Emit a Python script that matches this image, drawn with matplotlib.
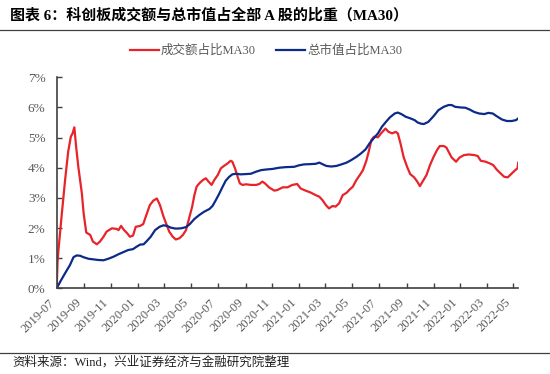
import matplotlib
matplotlib.use("Agg")
import matplotlib.pyplot as plt
import pandas as pd
from matplotlib.lines import Line2D

plt.rcParams['font.family'] = ['Liberation Serif', 'Noto Sans CJK SC', 'DejaVu Sans']

title = "图表 6：科创板成交额与总市值占全部 A 股的比重（MA30）"
source = "资料来源：Wind，兴业证券经济与金融研究院整理"
series_names = ["成交额占比MA30", "总市值占比MA30"]

red_dates = [
    "2019-07-22", "2019-07-24", "2019-07-26", "2019-08-02", "2019-08-10", "2019-08-17",
    "2019-08-23", "2019-08-27", "2019-08-31", "2019-09-04", "2019-09-09", "2019-09-17",
    "2019-09-21", "2019-09-27", "2019-10-06", "2019-10-12", "2019-10-21", "2019-10-28",
    "2019-11-05", "2019-11-12", "2019-11-24", "2019-12-05", "2019-12-09", "2019-12-15",
    "2019-12-20", "2019-12-29", "2020-01-04", "2020-01-11", "2020-01-17", "2020-01-27",
    "2020-02-03", "2020-02-09", "2020-02-18", "2020-02-26", "2020-03-05", "2020-03-12",
    "2020-03-20", "2020-03-26", "2020-04-02", "2020-04-10", "2020-04-17", "2020-04-25",
    "2020-05-03", "2020-05-10", "2020-05-18", "2020-05-24", "2020-05-29", "2020-06-03",
    "2020-06-09", "2020-06-17", "2020-06-24", "2020-06-30", "2020-07-07", "2020-07-13",
    "2020-07-21", "2020-07-28", "2020-08-04", "2020-08-12", "2020-08-19", "2020-08-23",
    "2020-08-29", "2020-09-04", "2020-09-09", "2020-09-15", "2020-09-23", "2020-10-04",
    "2020-10-16", "2020-10-23", "2020-10-30", "2020-11-05", "2020-11-14", "2020-11-26",
    "2020-12-03", "2020-12-15", "2020-12-26", "2021-01-06", "2021-01-17", "2021-01-25",
    "2021-02-05", "2021-02-16", "2021-02-28", "2021-03-08", "2021-03-15", "2021-03-23",
    "2021-03-30", "2021-04-07", "2021-04-14", "2021-04-22", "2021-04-30", "2021-05-09",
    "2021-05-16", "2021-05-23", "2021-05-31", "2021-06-08", "2021-06-15", "2021-06-23",
    "2021-06-29", "2021-07-04", "2021-07-10", "2021-07-19", "2021-07-26", "2021-08-05",
    "2021-08-12", "2021-08-20", "2021-08-28", "2021-09-02", "2021-09-08", "2021-09-15",
    "2021-09-23", "2021-09-30", "2021-10-09", "2021-10-16", "2021-10-22", "2021-10-30",
    "2021-11-06", "2021-11-14", "2021-11-22", "2021-11-30", "2021-12-06", "2021-12-15",
    "2021-12-21", "2021-12-26", "2022-01-02", "2022-01-12", "2022-01-20", "2022-01-30",
    "2022-02-10", "2022-02-22", "2022-03-02", "2022-03-09", "2022-03-20", "2022-03-30",
    "2022-04-06", "2022-04-14", "2022-04-23", "2022-05-01", "2022-05-09", "2022-05-16",
    "2022-05-26", "2022-05-31", "2022-06-02",
]
red_values = [
    0.00, 0.90, 1.27, 2.38, 3.59, 4.53,
    5.03, 5.14, 5.34, 4.70, 4.03, 3.15,
    2.49, 1.85, 1.77, 1.55, 1.46, 1.55,
    1.71, 1.88, 1.99, 1.97, 1.93, 2.07,
    1.96, 1.82, 1.71, 1.75, 2.04, 2.07,
    2.13, 2.38, 2.76, 2.91, 2.98, 2.76,
    2.38, 2.15, 1.88, 1.71, 1.62, 1.66,
    1.77, 1.93, 2.38, 2.71, 3.09, 3.37,
    3.48, 3.59, 3.65, 3.54, 3.43, 3.59,
    3.76, 3.98, 4.06, 4.14, 4.23, 4.20,
    3.98, 3.70, 3.48, 3.43, 3.45, 3.43,
    3.43, 3.46, 3.54, 3.48, 3.35, 3.24,
    3.26, 3.35, 3.35, 3.43, 3.46, 3.31,
    3.24, 3.18, 3.09, 3.04, 2.93, 2.76,
    2.65, 2.73, 2.71, 2.82, 3.09, 3.17,
    3.28, 3.37, 3.59, 3.76, 3.92, 4.25,
    4.59, 4.92, 5.03, 5.01, 5.14, 5.30,
    5.19, 5.14, 5.19, 5.14, 4.81, 4.36,
    4.03, 3.79, 3.68, 3.54, 3.39, 3.59,
    3.76, 4.09, 4.36, 4.59, 4.72, 4.72,
    4.67, 4.53, 4.34, 4.20, 4.34, 4.42,
    4.44, 4.42, 4.39, 4.23, 4.20, 4.14,
    4.09, 3.94, 3.81, 3.70, 3.68, 3.78,
    3.92, 3.98, 4.17,
]

blue_dates = [
    "2019-07-22", "2019-07-30", "2019-08-10", "2019-08-21", "2019-08-29", "2019-09-05",
    "2019-09-13", "2019-09-21", "2019-10-02", "2019-10-13", "2019-10-24", "2019-11-05",
    "2019-11-16", "2019-11-28", "2019-12-09", "2019-12-20", "2019-12-31", "2020-01-11",
    "2020-01-19", "2020-01-27", "2020-02-04", "2020-02-12", "2020-02-20", "2020-03-01",
    "2020-03-11", "2020-03-20", "2020-03-28", "2020-04-06", "2020-04-17", "2020-04-29",
    "2020-05-10", "2020-05-18", "2020-05-29", "2020-06-09", "2020-06-20", "2020-07-02",
    "2020-07-09", "2020-07-16", "2020-07-24", "2020-08-01", "2020-08-08", "2020-08-16",
    "2020-08-23", "2020-08-31", "2020-09-11", "2020-09-23", "2020-10-04", "2020-10-16",
    "2020-10-27", "2020-11-07", "2020-11-22", "2020-12-07", "2020-12-22", "2021-01-10",
    "2021-01-21", "2021-02-01", "2021-02-16", "2021-02-28", "2021-03-08", "2021-03-15",
    "2021-03-24", "2021-04-04", "2021-04-16", "2021-04-27", "2021-05-09", "2021-05-19",
    "2021-05-31", "2021-06-11", "2021-06-21", "2021-06-30", "2021-07-09", "2021-07-19",
    "2021-07-28", "2021-08-06", "2021-08-15", "2021-08-26", "2021-09-02", "2021-09-10",
    "2021-09-20", "2021-09-30", "2021-10-10", "2021-10-17", "2021-10-25", "2021-10-31",
    "2021-11-10", "2021-11-22", "2021-12-03", "2021-12-15", "2021-12-26", "2022-01-02",
    "2022-01-10", "2022-01-22", "2022-02-02", "2022-02-12", "2022-02-22", "2022-03-05",
    "2022-03-17", "2022-03-26", "2022-04-05", "2022-04-14", "2022-04-26", "2022-05-07",
    "2022-05-18", "2022-05-28", "2022-06-02",
]
blue_values = [
    0.00, 0.22, 0.50, 0.77, 1.03, 1.09,
    1.08, 1.03, 0.98, 0.96, 0.94, 0.93,
    0.98, 1.05, 1.13, 1.20, 1.27, 1.30,
    1.38, 1.45, 1.46, 1.58, 1.71, 1.93,
    2.04, 2.09, 2.07, 2.01, 1.98, 1.99,
    2.03, 2.12, 2.30, 2.43, 2.54, 2.63,
    2.73, 2.91, 3.13, 3.37, 3.57, 3.70,
    3.78, 3.80, 3.78, 3.79, 3.80, 3.87,
    3.92, 3.94, 3.96, 4.00, 4.02, 4.03,
    4.08, 4.11, 4.12, 4.13, 4.17, 4.12,
    4.06, 4.04, 4.06, 4.11, 4.17, 4.25,
    4.36, 4.48, 4.61, 4.81, 4.97, 5.14,
    5.36, 5.52, 5.67, 5.80, 5.83, 5.78,
    5.69, 5.64, 5.58, 5.50, 5.46, 5.45,
    5.52, 5.71, 5.91, 6.02, 6.08, 6.08,
    6.02, 6.00, 5.99, 5.93, 5.85, 5.80,
    5.78, 5.82, 5.80, 5.71, 5.60, 5.55,
    5.55, 5.58, 5.64,
]

tick_labels = ["2019-07", "2019-09", "2019-11", "2020-01", "2020-03", "2020-05",
               "2020-07", "2020-09", "2020-11", "2021-01", "2021-03", "2021-05",
               "2021-07", "2021-09", "2021-11", "2022-01", "2022-03", "2022-05"]
y_ticks = [0, 1, 2, 3, 4, 5, 6, 7]

RED = "#E8232A"
BLUE = "#0C2A8A"
GRAY = "#595959"
AXC = "#404040"

fig = plt.figure(figsize=(5.5, 3.74), dpi=100)
ax = fig.add_axes([56.7 / 550, 1 - 288.3 / 374, (518.3 - 56.7) / 550, (288.3 - 77.3) / 374])

rd = pd.to_datetime(red_dates)
bd = pd.to_datetime(blue_dates)
l1, = ax.plot(rd, red_values, color=RED, lw=1.6, solid_joinstyle='round')
l2, = ax.plot(bd, blue_values, color=BLUE, lw=1.6, solid_joinstyle='round')

ax.set_xlim(rd[0], rd[-1])
ax.set_ylim(0, 7)
ax.set_yticks(y_ticks)
ax.set_yticklabels([f"{v}%" for v in y_ticks], fontsize=9.5, color=GRAY)
tick_pos = pd.to_datetime([t + "-22" for t in tick_labels])
ax.set_xticks(tick_pos)
ax.set_xticklabels(tick_labels, rotation=45, ha='right', va='top', fontsize=9,
                   color=GRAY, rotation_mode='default')
ax.tick_params(axis='both', direction='in', length=3.5, width=1, color=AXC)
ax.tick_params(axis='x', pad=6)
ax.tick_params(axis='y', pad=8)
for s in ['top', 'right']:
    ax.spines[s].set_visible(False)
for s in ['left', 'bottom']:
    ax.spines[s].set_color(AXC)
    ax.spines[s].set_linewidth(1.2)

fig.text(10 / 550, 1 - 15 / 374, title, fontsize=10.8, fontweight='bold',
         ha='left', va='center', color='black')
fig.add_artist(Line2D([0.0, 1.0], [1 - 29.5 / 374, 1 - 29.5 / 374], color=AXC, lw=0.9))
fig.add_artist(Line2D([0.0, 1.0], [1 - 352.7 / 374, 1 - 352.7 / 374], color=AXC, lw=0.9))
fig.text(12 / 550, 1 - 362 / 374, source, fontsize=9, ha='left', va='center', color='#222222')

leg = fig.legend([l1, l2], series_names, loc='center', bbox_to_anchor=(266 / 550, 1 - 51 / 374),
                 ncol=2, frameon=False, fontsize=9, handlelength=2.3, handletextpad=0.2,
                 columnspacing=1.6, borderaxespad=0)
for t in leg.get_texts():
    t.set_color(GRAY)

fig.savefig("out.png", dpi=100)
